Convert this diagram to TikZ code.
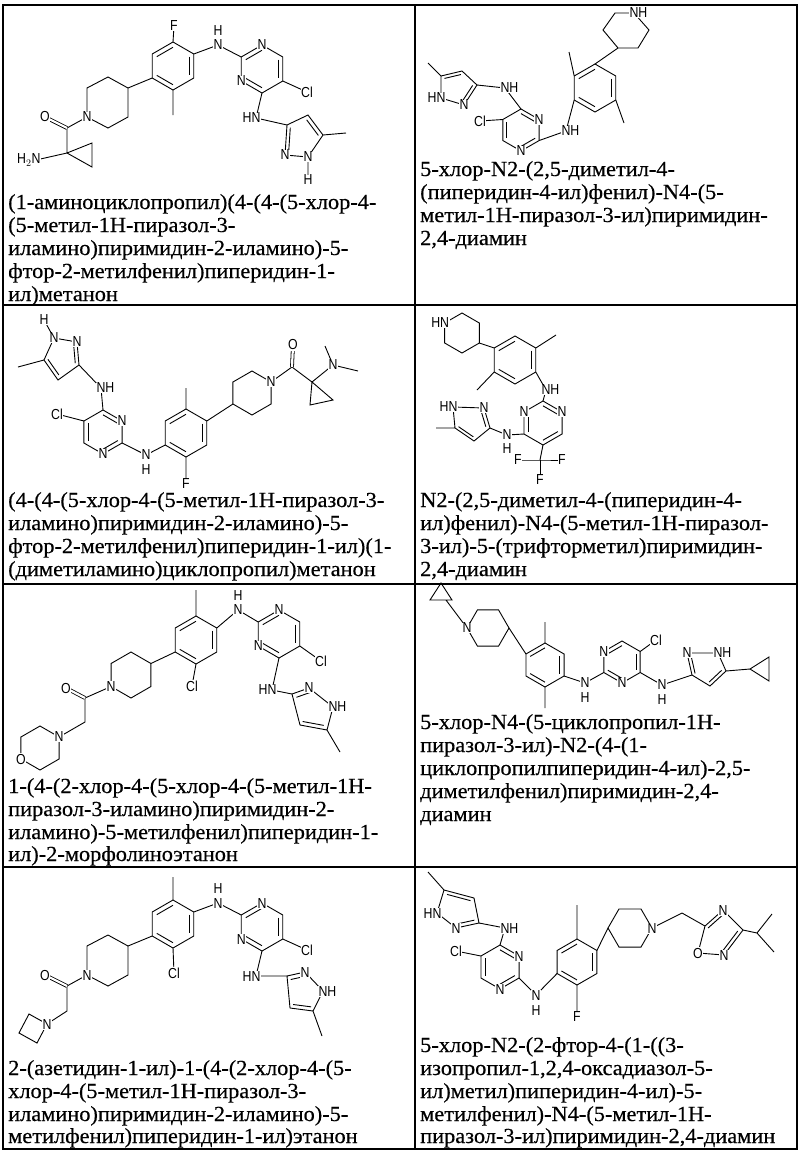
\documentclass[tikz,border=0pt]{standalone}
\usepackage{fontspec}
\setmainfont[FakeStretch=1.04,FakeBold=0.4]{Liberation Serif}
\newfontfamily\atomf[FakeStretch=0.85]{Liberation Sans}
\usetikzlibrary{calc}
\newcount\an
\newcommand\hexP[4]{\coordinate (#1c) at (#2,#3);\foreach \k in {1,...,6}{\coordinate (#1\k) at ($(#2,#3)+({-90+60*(\k-1)}:#4)$);}\draw[bond] (#11)--(#12)--(#13)--(#14)--(#15)--(#16)--cycle;}
\newcommand\hexF[4]{\coordinate (#1c) at (#2,#3);\foreach \k in {1,...,6}{\coordinate (#1\k) at ($(#2,#3)+({60*(\k-1)}:#4)$);}\draw[bond] (#11)--(#12)--(#13)--(#14)--(#15)--(#16)--cycle;}
\newcommand\dbl[3]{\draw[bond] ($(#1)!0.22!(#3)$) -- ($(#2)!0.22!(#3)$);}
\newcommand\at[2]{\node[atom] at (#1) {#2};}
\newcommand\tl[3]{\node[txt] at (#1,#2) {#3};}
\begin{document}
\begin{tikzpicture}[x=1pt,y=-1pt,
  bond/.style={line width=0.9pt},
  atom/.style={font=\atomf\fontsize{14.5}{14.5}\selectfont,fill=white,inner sep=0.5pt,
     /utils/exec={\global\advance\an by 1\relax},name=at\the\an},
  txt/.style={font=\fontsize{21.5}{23}\selectfont,anchor=base west,inner sep=0pt,
     /utils/exec={\global\advance\an by 1\relax},name=tx\the\an},
  dbo/.style={double,double distance=2.2pt,line width=0.8pt}]
\useasboundingbox (0,0) rectangle (800,1152);
% table
\draw[line width=1.2pt] (3,5) rectangle (797,1149);
\draw[line width=1.2pt] (415,5) -- (415,1149);
\foreach \yy in {305,584,867}{\draw[line width=1.2pt] (3,\yy) -- (797,\yy);}

% ===== Molecule 1 =====
\hexP{ba}{173}{66}{24}\dbl{ba2}{ba3}{bac}\dbl{ba4}{ba5}{bac}\dbl{ba6}{ba1}{bac}
\hexP{pa}{262}{69}{24}\dbl{pa6}{pa1}{pac}\dbl{pa2}{pa3}{pac}\dbl{pa4}{pa5}{pac}
\coordinate (fa) at (174,26);\coordinate (na1) at (218,45);\coordinate (cla) at (307,92);
\coordinate (na2) at (256,118);
\coordinate (za3) at (287,125);\coordinate (za4) at (308,115);\coordinate (za5) at (323,135);
\coordinate (za1) at (308,157);\coordinate (za2) at (285,155);\coordinate (zac) at (302,137);
\coordinate (ha1) at (308,180);
\draw[bond] (ba1)--(fa) (ba2)--(na1)--(pa6) (pa3)--(cla) (pa4)--(na2)--(za3);
\draw[bond] (za3)--(za4)--(za5)--(za1)--(za2)--cycle (za5)--(346,133) (za1)--(ha1) (ba4)--(173,115);
\dbl{za2}{za3}{zac}\dbl{za4}{za5}{zac}
\coordinate (qa1) at (128,88);\coordinate (qa2) at (108,77);\coordinate (qa3) at (87,88);
\coordinate (qa4) at (87,117);\coordinate (qa5) at (108,128);\coordinate (qa6) at (128,117);
\draw[bond] (qa1)--(qa2)--(qa3)--(qa4)--(qa5)--(qa6)--cycle (ba5)--(qa1);
\coordinate (ca) at (67,128);\coordinate (oa) at (45,117);\coordinate (cpa) at (67,153);\coordinate (nha) at (36,160);
\draw[bond] (qa4)--(ca)--(cpa)--(nha) (cpa)--(92,143)--(92,167)--cycle;
\draw[dbo] (ca)--(oa);
\at{fa}{F}\at{na1}{N}\at{218,31}{H}\at{pa1}{N}\at{pa5}{N}\at{cla}{Cl}\at{na2}{\llap{H}N}
\at{za2}{N}\at{za1}{N}\at{ha1}{H}\at{qa4}{N}\at{oa}{O}\at{nha}{\llap{H$_2$}N}
\tl{8}{209}{(1-аминоциклопропил)(4-(4-(5-хлор-4-}
\tl{8}{232}{(5-метил-1H-пиразол-3-}
\tl{8}{255}{иламино)пиримидин-2-иламино)-5-}
\tl{8}{278}{фтор-2-метилфенил)пиперидин-1-}
\tl{8}{301}{ил)метанон}

% ===== Molecule 2 =====
\coordinate (qb1) at (603,30);\coordinate (qb2) at (615,13);\coordinate (qb3) at (634,13);
\coordinate (qb4) at (649,30);\coordinate (qb5) at (638,48);\coordinate (qb6) at (618,48);
\draw[bond] (qb1)--(qb2)--(qb3)--(qb4)--(qb5)--(qb6)--cycle;
\hexP{bb}{595}{88}{24}\dbl{bb2}{bb3}{bbc}\dbl{bb4}{bb5}{bbc}\dbl{bb6}{bb1}{bbc}
\hexP{pb}{521}{130}{21}\dbl{pb1}{pb2}{pbc}\dbl{pb3}{pb4}{pbc}\dbl{pb5}{pb6}{pbc}
\coordinate (nb1) at (566,131);\coordinate (nb2) at (505,88);\coordinate (clb) at (480,121);
\coordinate (zb3) at (477,85);\coordinate (zb4) at (462,71);\coordinate (zb5) at (441,76);
\coordinate (zb1) at (441,98);\coordinate (zb2) at (464,105);\coordinate (zbc) at (457,87);
\draw[bond] (qb6)--(bb1) (bb6)--(569,52) (bb3)--(624,123) (bb5)--(nb1)--(pb3) (pb6)--(clb) (pb1)--(nb2)--(zb3);
\draw[bond] (zb3)--(zb4)--(zb5)--(zb1)--(zb2)--cycle (zb5)--(428,63);
\dbl{zb2}{zb3}{zbc}\dbl{zb4}{zb5}{zbc}
\at{qb3}{N\rlap{H}}\at{pb2}{N}\at{pb4}{N}\at{nb1}{N\rlap{H}}\at{nb2}{N\rlap{H}}\at{clb}{Cl}
\at{zb1}{\llap{H}N}\at{zb2}{N}
\tl{420}{176}{5-хлор-N2-(2,5-диметил-4-}
\tl{420}{199}{(пиперидин-4-ил)фенил)-N4-(5-}
\tl{420}{222}{метил-1H-пиразол-3-ил)пиримидин-}
\tl{420}{245}{2,4-диамин}

% ===== Molecule 3 =====
\coordinate (zc1) at (54,338);\coordinate (zc2) at (77,342);\coordinate (zc3) at (79,365);
\coordinate (zc4) at (58,380);\coordinate (zc5) at (44,360);\coordinate (zcc) at (62,357);
\draw[bond] (zc1)--(zc2)--(zc3)--(zc4)--(zc5)--cycle (zc5)--(18,367) (zc1)--(44,320);
\dbl{zc2}{zc3}{zcc}\dbl{zc4}{zc5}{zcc}
\hexP{pc}{103}{432}{22}\dbl{pc1}{pc2}{pcc}\dbl{pc3}{pc4}{pcc}\dbl{pc5}{pc6}{pcc}
\hexP{bc}{186}{433}{24}\dbl{bc2}{bc3}{bcc}\dbl{bc4}{bc5}{bcc}\dbl{bc6}{bc1}{bcc}
\hexP{qc}{252}{393}{22}
\coordinate (nc1) at (101,388);\coordinate (nc2) at (146,455);\coordinate (clc) at (57,414);
\coordinate (fc) at (186,484);\coordinate (cc) at (292,367);\coordinate (oc) at (293,345);
\coordinate (cqc) at (312,382);\coordinate (nmc) at (333,365);
\draw[bond] (zc3)--(nc1)--(pc1) (pc6)--(clc) (pc3)--(nc2)--(bc5) (bc1)--(186,388) (bc4)--(fc) (bc2)--(qc5);
\draw[bond] (qc2)--(cc)--(cqc)--(nmc)--(325,346) (nmc)--(358,371) (cqc)--(310,405)--(333,400)--cycle;
\draw[dbo] (cc)--(oc);
\at{zc1}{N}\at{zc2}{N}\at{44,320}{H}\at{nc1}{N\rlap{H}}\at{pc2}{N}\at{pc4}{N}\at{clc}{Cl}
\at{nc2}{N}\at{146,470}{H}\at{fc}{F}\at{qc2}{N}\at{oc}{O}\at{nmc}{N}
\tl{8}{507}{(4-(4-(5-хлор-4-(5-метил-1H-пиразол-3-}
\tl{8}{530}{иламино)пиримидин-2-иламино)-5-}
\tl{8}{553}{фтор-2-метилфенил)пиперидин-1-ил)(1-}
\tl{8}{576}{(диметиламино)циклопропил)метанон}

% ===== Molecule 4 =====
\hexP{qd}{462}{333}{20}
\hexP{bd}{515}{360}{24}\dbl{bd2}{bd3}{bdc}\dbl{bd4}{bd5}{bdc}\dbl{bd6}{bd1}{bdc}
\hexP{pd}{543}{423}{22}\dbl{pd1}{pd2}{pdc}\dbl{pd3}{pd4}{pdc}\dbl{pd5}{pd6}{pdc}
\coordinate (nd1) at (546,390);\coordinate (nd2) at (507,435);\coordinate (cfd) at (540,460);
\coordinate (zd1) at (453,407);\coordinate (zd2) at (484,408);\coordinate (zd3) at (490,428);
\coordinate (zd4) at (474,441);\coordinate (zd5) at (455,428);\coordinate (zdc) at (471,422);
\coordinate (fd1) at (518,460);\coordinate (fd2) at (562,460);\coordinate (fd3) at (540,480);
\draw[bond] (qd3)--(bd6) (bd2)--(556,335) (bd5)--(477,390) (bd3)--(nd1)--(pd1) (pd4)--(cfd) (pd5)--(nd2)--(zd3);
\draw[bond] (fd1)--(cfd)--(fd2) (cfd)--(fd3);
\draw[bond] (zd1)--(zd2)--(zd3)--(zd4)--(zd5)--cycle (zd5)--(436,428);
\dbl{zd2}{zd3}{zdc}\dbl{zd4}{zd5}{zdc}
\at{qd6}{\llap{H}N}\at{nd1}{N\rlap{H}}\at{pd2}{N}\at{pd6}{N}\at{nd2}{N}\at{507,449}{H}
\at{zd1}{\llap{H}N}\at{zd2}{N}\at{fd1}{F}\at{fd2}{F}\at{fd3}{F}
\tl{420}{507}{N2-(2,5-диметил-4-(пиперидин-4-}
\tl{420}{530}{ил)фенил)-N4-(5-метил-1H-пиразол-}
\tl{420}{553}{3-ил)-5-(трифторметил)пиримидин-}
\tl{420}{576}{2,4-диамин}

% ===== Molecule 5 =====
\hexP{be}{196}{640}{24}\dbl{be2}{be3}{bec}\dbl{be4}{be5}{bec}\dbl{be6}{be1}{bec}
\hexP{pe}{279}{634}{24}\dbl{pe6}{pe1}{pec}\dbl{pe2}{pe3}{pec}\dbl{pe4}{pe5}{pec}
\hexP{qe}{131}{675}{23}
\hexP{me}{40}{748}{22}
\coordinate (ne1) at (238,610);\coordinate (ne2) at (272,690);\coordinate (cle1) at (192,686);
\coordinate (cle2) at (321,661);
\coordinate (ze3) at (292,694);\coordinate (ze2) at (309,688);\coordinate (ze1) at (333,707);
\coordinate (ze5) at (327,730);\coordinate (ze4) at (300,725);\coordinate (zec) at (312,709);
\coordinate (ce) at (85,698);\coordinate (oe) at (66,688);\coordinate (che) at (85,722);
\draw[bond] (be1)--(196,590) (be2)--(ne1)--(pe6) (pe3)--(cle2) (be4)--(cle1) (pe4)--(ne2)--(ze3) (be5)--(qe2);
\draw[bond] (ze3)--(ze2)--(ze1)--(ze5)--(ze4)--cycle (ze5)--(340,752);
\dbl{ze3}{ze2}{zec}\dbl{ze5}{ze4}{zec}
\draw[bond] (qe5)--(ce)--(che)--(me2);
\draw[dbo] (ce)--(oe);
\at{ne1}{N}\at{238,596}{H}\at{pe1}{N}\at{pe5}{N}\at{cle1}{Cl}\at{cle2}{Cl}\at{ne2}{\llap{H}N}
\at{ze2}{N}\at{ze1}{N\rlap{H}}\at{qe5}{N}\at{oe}{O}\at{me2}{N}\at{me5}{O}
\tl{8}{793}{1-(4-(2-хлор-4-(5-хлор-4-(5-метил-1H-}
\tl{8}{816}{пиразол-3-иламино)пиримидин-2-}
\tl{8}{839}{иламино)-5-метилфенил)пиперидин-1-}
\tl{8}{861}{ил)-2-морфолиноэтанон}

% ===== Molecule 6 =====
\hexF{qf}{488}{628}{21}
\hexP{bf}{545}{665}{22}\dbl{bf2}{bf3}{bfc}\dbl{bf4}{bf5}{bfc}\dbl{bf6}{bf1}{bfc}
\hexP{pf}{622}{662}{21}\dbl{pf6}{pf1}{pfc}\dbl{pf2}{pf3}{pfc}\dbl{pf4}{pf5}{pfc}
\coordinate (nf1) at (585,683);\coordinate (nf2) at (662,685);\coordinate (clf) at (656,640);
\coordinate (zf3) at (692,675);\coordinate (zf2) at (687,653);\coordinate (zf1) at (718,653);
\coordinate (zf5) at (726,671);\coordinate (zf4) at (710,686);\coordinate (zfc) at (706,668);
\draw[bond] (430,600)--(452,600)--(441,583)--cycle (446,600)--(qf4) (qf1)--(bf6) (bf1)--(545,622) (bf4)--(545,708);
\draw[bond] (bf3)--(nf1)--(pf5) (pf2)--(clf) (pf3)--(nf2)--(zf3);
\draw[bond] (zf3)--(zf2)--(zf1)--(zf5)--(zf4)--cycle (zf5)--(750,669) (750,669)--(769,657)--(769,681)--cycle;
\dbl{zf3}{zf2}{zfc}\dbl{zf5}{zf4}{zfc}
\at{qf4}{N}\at{nf1}{N}\at{585,698}{H}\at{pf6}{N}\at{pf4}{N}\at{clf}{Cl}\at{nf2}{N}\at{662,700}{H}
\at{zf2}{N}\at{zf1}{N\rlap{H}}
\tl{420}{729}{5-хлор-N4-(5-циклопропил-1H-}
\tl{420}{752}{пиразол-3-ил)-N2-(4-(1-}
\tl{420}{775}{циклопропилпиперидин-4-ил)-2,5-}
\tl{420}{798}{диметилфенил)пиримидин-2,4-}
\tl{420}{821}{диамин}

% ===== Molecule 7 =====
\hexP{bg}{173}{924}{24}\dbl{bg2}{bg3}{bgc}\dbl{bg4}{bg5}{bgc}\dbl{bg6}{bg1}{bgc}
\hexP{pg}{262}{927}{24}\dbl{pg6}{pg1}{pgc}\dbl{pg2}{pg3}{pgc}\dbl{pg4}{pg5}{pgc}
\coordinate (ng1) at (218,903);\coordinate (clg1) at (307,950);\coordinate (clg2) at (174,973);
\coordinate (ng2) at (256,976);
\coordinate (zg3) at (287,976);\coordinate (zg2) at (305,972);\coordinate (zg1) at (323,991);
\coordinate (zg5) at (313,1011);\coordinate (zg4) at (290,1008);\coordinate (zgc) at (304,992);
\draw[bond] (bg1)--(173,877) (bg2)--(ng1)--(pg6) (pg3)--(clg1) (pg4)--(ng2)--(zg3) (bg4)--(clg2);
\draw[bond] (zg3)--(zg2)--(zg1)--(zg5)--(zg4)--cycle (zg5)--(322,1036);
\dbl{zg3}{zg2}{zgc}\dbl{zg5}{zg4}{zgc}
\coordinate (qg1) at (128,946);\coordinate (qg2) at (108,935);\coordinate (qg3) at (87,946);
\coordinate (qg4) at (87,975);\coordinate (qg5) at (108,986);\coordinate (qg6) at (128,975);
\draw[bond] (qg1)--(qg2)--(qg3)--(qg4)--(qg5)--(qg6)--cycle (bg5)--(qg1);
\coordinate (cg) at (67,986);\coordinate (og) at (45,975);\coordinate (chg) at (67,1011);\coordinate (nzg) at (47,1024);
\draw[bond] (qg4)--(cg)--(chg)--(nzg) (nzg)--(29,1014)--(19,1033)--(37,1043)--cycle;
\draw[dbo] (cg)--(og);
\at{ng1}{N}\at{218,889}{H}\at{pg1}{N}\at{pg5}{N}\at{clg1}{Cl}\at{clg2}{Cl}\at{ng2}{\llap{H}N}
\at{zg2}{N}\at{zg1}{N\rlap{H}}\at{qg4}{N}\at{og}{O}\at{nzg}{N}
\tl{8}{1075}{2-(азетидин-1-ил)-1-(4-(2-хлор-4-(5-}
\tl{8}{1098}{хлор-4-(5-метил-1H-пиразол-3-}
\tl{8}{1121}{иламино)пиримидин-2-иламино)-5-}
\tl{8}{1143}{метилфенил)пиперидин-1-ил)этанон}

% ===== Molecule 8 =====
\coordinate (zh5) at (444,890);\coordinate (zh4) at (474,898);\coordinate (zh3) at (479,923);
\coordinate (zh2) at (456,928);\coordinate (zh1) at (437,913);\coordinate (zhc) at (458,910);
\draw[bond] (zh1)--(zh2)--(zh3)--(zh4)--(zh5)--cycle (zh5)--(428,872);
\dbl{zh3}{zh2}{zhc}\dbl{zh4}{zh5}{zhc}
\hexP{ph}{500}{967}{22}\dbl{ph1}{ph2}{phc}\dbl{ph3}{ph4}{phc}\dbl{ph5}{ph6}{phc}
\hexP{bh}{577}{962}{23}\dbl{bh2}{bh3}{bhc}\dbl{bh4}{bh5}{bhc}\dbl{bh6}{bh1}{bhc}
\hexF{qh}{630}{928}{22}
\coordinate (nh1) at (505,928);\coordinate (nh2) at (536,995);\coordinate (clh) at (456,951);
\coordinate (fh) at (577,1016);\coordinate (chh) at (682,913);
\coordinate (oh5) at (705,926);\coordinate (oh4) at (723,910);\coordinate (oh3) at (743,930);
\coordinate (oh2) at (724,955);\coordinate (oh1) at (698,953);\coordinate (ohc) at (719,935);
\coordinate (iph) at (757,933);
\draw[bond] (zh3)--(nh1)--(ph1) (ph6)--(clh) (ph3)--(nh2)--(bh5) (bh1)--(577,905) (bh4)--(fh) (bh2)--(qh4);
\draw[bond] (qh1)--(chh)--(oh5) (oh5)--(oh4)--(oh3)--(oh2)--(oh1)--cycle (oh3)--(iph)--(772,914) (iph)--(774,952);
\dbl{oh5}{oh4}{ohc}\dbl{oh3}{oh2}{ohc}
\at{zh1}{\llap{H}N}\at{zh2}{N}\at{nh1}{N\rlap{H}}\at{clh}{Cl}\at{ph2}{N}\at{ph4}{N}
\at{nh2}{N}\at{536,1010}{H}\at{fh}{F}\at{qh1}{N}\at{oh4}{N}\at{oh2}{N}\at{oh1}{O}
\tl{420}{1052}{5-хлор-N2-(2-фтор-4-(1-((3-}
\tl{420}{1075}{изопропил-1,2,4-оксадиазол-5-}
\tl{420}{1098}{ил)метил)пиперидин-4-ил)-5-}
\tl{420}{1121}{метилфенил)-N4-(5-метил-1H-}
\tl{420}{1143}{пиразол-3-ил)пиримидин-2,4-диамин}
\end{tikzpicture}
\end{document}
